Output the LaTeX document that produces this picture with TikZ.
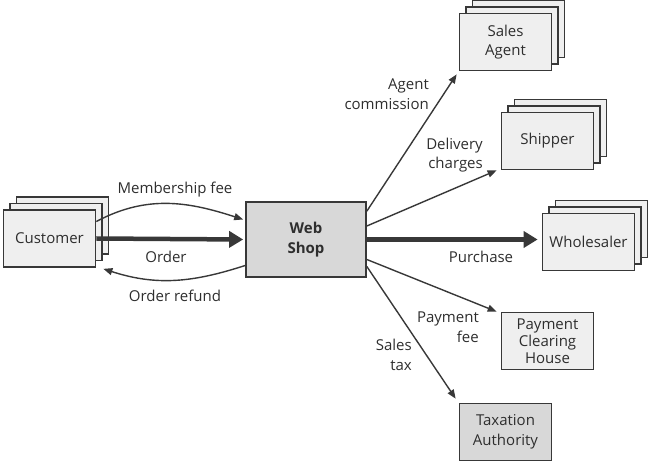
\documentclass[tikz,border=0pt]{standalone}
\usepackage{fontspec}
\setmainfont{Open Sans}
\usetikzlibrary{arrows.meta}
\definecolor{edge}{HTML}{383838}
\definecolor{light}{HTML}{EFEFEF}
\definecolor{darkf}{HTML}{D8D8D8}
\definecolor{txt}{HTML}{2E2E2E}
\begin{document}
\begin{tikzpicture}[x=1pt,y=-1pt,font=\fontsize{15}{19.5}\selectfont,
  box/.style={draw=edge,line width=1.7pt,fill=light,minimum width=92pt,minimum height=57pt,inner sep=0pt,align=center,text=txt},
  lbl/.style={inner sep=0pt,text=txt,align=center},
  thin/.style={draw=edge,line width=1.4pt,-{Triangle[length=9pt,width=7pt]}},
  thick/.style={draw=edge,line width=4.5pt,-{Triangle[length=14pt,width=16pt]}}]
\useasboundingbox (0,0) rectangle (649,462);
% Customer stack
\node[box] (cust3) at (62.5,225.5) {};
\node[box] (cust2) at (56,232) {};
\node[box] (cust) at (49.5,238.5) {Customer};
% Web shop
\node[box,fill=darkf,minimum width=120pt,minimum height=75pt,font=\fontsize{15}{19.5}\selectfont\bfseries] (shop) at (306,239.5) {Web\\Shop};
% Sales agent stack
\node[box] (agent3) at (518.5,29) {};
\node[box] (agent2) at (512,35.5) {};
\node[box] (agent) at (505.5,42) {Sales\\Agent};
% Shipper stack
\node[box] (ship3) at (560.5,128) {};
\node[box] (ship2) at (554,134.5) {};
\node[box] (ship) at (547.5,141) {Shipper};
% Wholesaler stack
\node[box] (whole3) at (601.5,229) {};
\node[box] (whole2) at (595,235.5) {};
\node[box] (whole) at (588.5,242) {Wholesaler};
% Payment clearing house
\node[box,font=\fontsize{15}{17}\selectfont] (pch) at (547.5,341) {Payment\\Clearing\\House};
% Taxation authority
\node[box,fill=darkf] (tax) at (505.5,432) {Taxation\\Authority};
% Connectors
\draw[thin] ([yshift=17pt]cust.east) to[out=28,in=162] ([xshift=-2pt,yshift=20pt]shop.west);
\draw[thick] (cust.east) -- ([xshift=-2pt]shop.west);
\draw[thin] ([yshift=-26pt]shop.west) to[out=198,in=-18] ([xshift=7pt,yshift=-1pt]cust.south east);
\draw[thin] ([yshift=-10pt]shop.north east) -- ([xshift=-2pt,yshift=-3pt]agent.south west);
\draw[thin] ([yshift=13.5pt]shop.east) -- ([xshift=-4pt]ship.south west);
\draw[thick] (shop.east) -- ([xshift=-4pt]shop.east -| whole.west);
\draw[thin] ([yshift=-20pt]shop.east) -- ([xshift=-4pt]pch.north west);
\draw[thin] ([yshift=-27pt]shop.east) -- ([xshift=-3pt,yshift=4pt]tax.north west);
% Labels
\node[lbl] (lmem) at (175,190) {Membership fee};
\node[lbl] (lorder) at (166,257) {Order};
\node[lbl] (lref) at (175,296) {Order refund};
\node[lbl,align=right,anchor=east] (lagent) at (429,94) {Agent\\commission};
\node[lbl,align=right,anchor=east] (ldel) at (483,155) {Delivery\\charges};
\node[lbl] (lpur) at (481,257) {Purchase};
\node[lbl,align=right,anchor=east] (lpay) at (479,327) {Payment\\fee};
\node[lbl,align=right,anchor=east] (lsal) at (412,355) {Sales\\tax};
\end{tikzpicture}
\end{document}
